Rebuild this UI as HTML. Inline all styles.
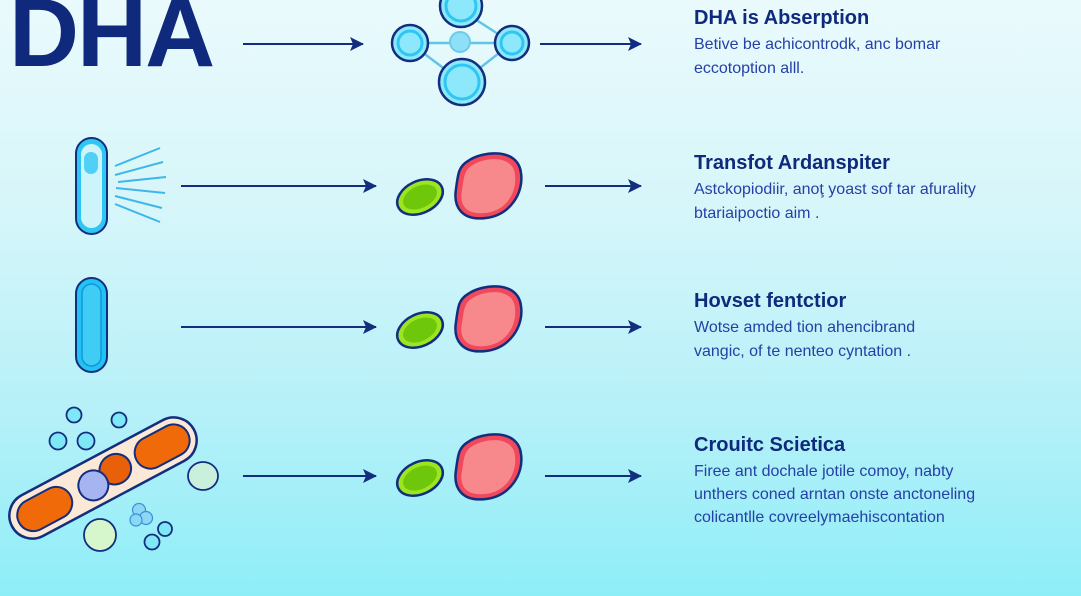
<!DOCTYPE html>
<html><head><meta charset="utf-8"><style>
html,body{margin:0;padding:0;width:1081px;height:596px;overflow:hidden}
body{background:linear-gradient(180deg,#eafafc 0%,#d6f6fa 35%,#b5f0f8 70%,#8eeef8 100%);font-family:"Liberation Sans",sans-serif}
svg{position:absolute;left:0;top:0}
</style></head><body>
<svg width="1081" height="596" viewBox="0 0 1081 596">
<defs>
<marker id="ah" markerWidth="14" markerHeight="14" refX="13" refY="7" orient="auto" markerUnits="userSpaceOnUse" viewBox="0 0 14 14"><path d="M0,0 L14,7 L0,14 L3,7z" fill="#132e7e"/></marker>
<g id="cells">
<ellipse cx="0" cy="0" rx="24" ry="16" transform="rotate(-25)" fill="#9be61e" stroke="#132e7e" stroke-width="2.5"/>
<ellipse cx="0" cy="0" rx="18" ry="11" transform="rotate(-25)" fill="#6ec70a"/>
<path d="M48,-36 C62,-46 98,-50 101,-24 C104,-4 90,18 66,21 C42,24 33,10 36,-8 C38,-22 38,-30 48,-36z" fill="#f1485c" stroke="#132e7e" stroke-width="2.5"/>
<path d="M51,-31 C64,-40 93,-43 95,-22 C97,-4 86,14 65,16 C46,18 39,8 42,-7 C44,-19 44,-26 51,-31z" fill="#f7898d"/>
</g>
</defs>
<text x="9" y="66" font-size="97" font-weight="bold" fill="#0f2a7c" letter-spacing="-2">DHA</text>

<g stroke="#132e7e" stroke-width="2" marker-end="url(#ah)">
<line x1="243" y1="44" x2="363" y2="44"/><line x1="540" y1="44" x2="641" y2="44"/>
<line x1="181" y1="186" x2="376" y2="186"/><line x1="545" y1="186" x2="641" y2="186"/>
<line x1="181" y1="327" x2="376" y2="327"/><line x1="545" y1="327" x2="641" y2="327"/>
<line x1="243" y1="476" x2="376" y2="476"/><line x1="545" y1="476" x2="641" y2="476"/>
</g>

<g stroke="#5fc6ea" stroke-width="2.5">
<line x1="410" y1="43" x2="512" y2="43"/><line x1="461" y1="10" x2="512" y2="43"/><line x1="410" y1="43" x2="462" y2="82"/><line x1="512" y1="43" x2="462" y2="82"/>
</g>
<g fill="#8ee8fb" stroke="#132e7e" stroke-width="2.5">
<circle cx="461" cy="6" r="21"/><circle cx="410" cy="43" r="18"/><circle cx="512" cy="43" r="17"/><circle cx="462" cy="82" r="23"/>
</g>
<g fill="#8ee8fb" stroke="#2ec6f2" stroke-width="3">
<circle cx="461" cy="6" r="15"/><circle cx="410" cy="43" r="12"/><circle cx="512" cy="43" r="11"/><circle cx="462" cy="82" r="17"/>
</g>
<circle cx="460" cy="42" r="10" fill="#8ee0f6" stroke="#6ccbeb" stroke-width="2"/>

<rect x="76" y="138" width="31" height="96" rx="15.5" fill="#2ec6f2" stroke="#132e7e" stroke-width="2"/>
<rect x="81" y="144" width="21" height="84" rx="10.5" fill="#cdf3fb"/>
<rect x="84" y="152" width="14" height="22" rx="7" fill="#4fd0f6"/>
<g stroke="#3fb6e8" stroke-width="2">
<line x1="115" y1="166" x2="160" y2="148"/><line x1="115" y1="175" x2="163" y2="162"/><line x1="118" y1="182" x2="166" y2="177"/><line x1="116" y1="188" x2="165" y2="193"/><line x1="115" y1="196" x2="162" y2="208"/><line x1="115" y1="204" x2="160" y2="222"/>
</g>
<use href="#cells" x="420" y="197"/>

<rect x="76" y="278" width="31" height="94" rx="15.5" fill="#22c2f2" stroke="#132e7e" stroke-width="2"/>
<rect x="82" y="284" width="19" height="82" rx="9.5" fill="#3fcdf6" stroke="#1098d8" stroke-width="1.5"/>
<use href="#cells" x="420" y="330"/>

<g transform="translate(103,478) rotate(-28)">
<rect x="-103" y="-23" width="206" height="46" rx="23" fill="#fbe8d6" stroke="#132e7e" stroke-width="2.5"/>
<rect x="-95" y="-16" width="58" height="32" rx="16" fill="#f06a0a" stroke="#132e7e" stroke-width="2"/>
<rect x="38" y="-16" width="58" height="32" rx="16" fill="#f06a0a" stroke="#132e7e" stroke-width="2"/>
<ellipse cx="15" cy="-2" rx="16" ry="15" fill="#e86008" stroke="#132e7e" stroke-width="2"/>
<circle cx="-12" cy="2" r="15" fill="#a7b4f2" stroke="#132e7e" stroke-width="2"/>
</g>
<g fill="#7ee8f6" stroke="#132e7e" stroke-width="1.8">
<circle cx="74" cy="415" r="7.5"/><circle cx="119" cy="420" r="7.5"/><circle cx="58" cy="441" r="8.5"/><circle cx="86" cy="441" r="8.5"/>
<circle cx="165" cy="529" r="7"/><circle cx="152" cy="542" r="7.5"/>
</g>
<g fill="#8ad8f4" stroke="#3a8fd8" stroke-width="1.2"><circle cx="139" cy="510" r="6.5"/><circle cx="146" cy="518" r="6.5"/><circle cx="136" cy="520" r="6"/></g>
<ellipse cx="203" cy="476" rx="15" ry="14" fill="#c9f0dc" stroke="#132e7e" stroke-width="1.8"/>
<ellipse cx="100" cy="535" rx="16" ry="16" fill="#d6f6cc" stroke="#132e7e" stroke-width="1.8"/>
<use href="#cells" x="420" y="478"/>

<g font-family="Liberation Sans, sans-serif">
<g font-size="20" font-weight="bold" fill="#0f2a7c">
<text x="694" y="24">DHA is Abserption</text>
<text x="694" y="169">Transfot Ardanspiter</text>
<text x="694" y="307">Hovset fentctior</text>
<text x="694" y="451">Crouitc Scietica</text>
</g>
<g font-size="16" fill="#2540a6">
<text x="694" y="49">Betive be achicontrodk, anc bomar</text>
<text x="694" y="73">eccotoption  alll.</text>
<text x="694" y="194">Astckopiodiir, anoţ yoast sof tar afurality</text>
<text x="694" y="218">btariaipoctio aim .</text>
<text x="694" y="332">Wotse amded tion ahencibrand</text>
<text x="694" y="356">vangic, of te nenteo cyntation  .</text>
<text x="694" y="476">Firee ant dochale jotile comoy, nabty</text>
<text x="694" y="499">unthers coned arntan onste anctoneling</text>
<text x="694" y="522">colicantlle covreelymaehiscontation</text>
</g>
</g>
</svg>
</body></html>
